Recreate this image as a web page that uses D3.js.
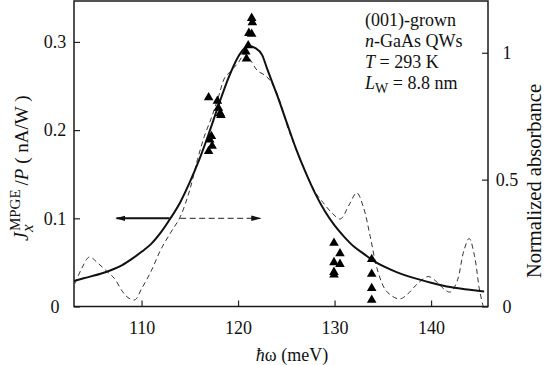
<!DOCTYPE html>
<html>
<head>
<meta charset="utf-8">
<script src="https://cdn.jsdelivr.net/npm/d3@7"></script>
<style>
  body { margin: 0; background: #fff; }
  svg, svg text { font-family: "Liberation Serif", "DejaVu Serif", serif !important; }
  svg text { fill: #111; }
</style>
</head>
<body>
<div id="chart"></div>
<script>
// photon energy (meV) / photocurrent (nA/W)
const fitEnergy = [103, 104, 106, 107, 108, 109, 110, 111, 112, 113, 114, 115, 116, 117, 118, 119, 120, 120.6, 121.2, 121.8, 122.5, 123, 124, 125, 126, 127, 128, 129, 130, 131, 132, 133, 134, 136, 138, 140, 142, 144, 145.5];
const fitCurrent = [0.029, 0.032, 0.038, 0.042, 0.047, 0.054, 0.062, 0.071, 0.084, 0.100, 0.118, 0.141, 0.167, 0.197, 0.229, 0.259, 0.283, 0.292, 0.295, 0.293, 0.285, 0.270, 0.241, 0.210, 0.179, 0.152, 0.128, 0.108, 0.092, 0.079, 0.068, 0.060, 0.052, 0.041, 0.033, 0.027, 0.022, 0.019, 0.017];

// normalized absorbance (right axis)
const absEnergy = [103.1, 103.8, 104.6, 105.5, 106.5, 107.2, 108.0, 108.6, 109.3, 110.0, 111.0, 112.0, 113.0, 114.0, 115.0, 115.8, 116.5, 117.3, 118.0, 118.6, 119.3, 120.0, 120.7, 121.3, 122.0, 123.0, 123.8, 124.5, 125.2, 126.0, 127.0, 128.0, 128.8, 129.7, 130.6, 131.5, 132.3, 133.0, 133.7, 134.4, 135.2, 136.0, 136.8, 137.6, 138.6, 139.7, 140.5, 141.3, 142.0, 142.7, 143.4, 143.95, 144.5, 145.0, 145.4];
const absValue = [0.09, 0.15, 0.195, 0.17, 0.135, 0.11, 0.06, 0.035, 0.026, 0.07, 0.14, 0.225, 0.29, 0.353, 0.46, 0.58, 0.67, 0.75, 0.83, 0.90, 0.93, 0.96, 0.995, 0.97, 0.93, 0.905, 0.86, 0.79, 0.70, 0.62, 0.53, 0.45, 0.41, 0.37, 0.345, 0.40, 0.448, 0.39, 0.275, 0.15, 0.07, 0.04, 0.03, 0.05, 0.09, 0.118, 0.10, 0.07, 0.057, 0.10, 0.22, 0.268, 0.20, 0.07, 0.0];

// measured points (triangles)
const ptEnergy = [121.41, 121.48, 121.12, 121.41, 121.05, 120.80, 120.87,
                  116.95, 117.86, 117.96, 118.15, 118.22, 117.24, 117.06, 117.31, 116.95,
                  129.94, 130.56, 129.94, 130.56, 129.94, 129.94,
                  133.85, 133.85, 133.85, 133.85];
const ptCurrent = [0.327, 0.322, 0.310, 0.309, 0.296, 0.289, 0.281,
                   0.237, 0.233, 0.225, 0.219, 0.217, 0.193, 0.189, 0.182, 0.176,
                   0.072, 0.060, 0.050, 0.048, 0.039, 0.036,
                   0.0535, 0.0368, 0.0206, 0.0074];

const xTicks = [110, 120, 130, 140];
const yTicks = [0, 0.1, 0.2, 0.3];
const yTickLabels = ["0", "0.1", "0.2", "0.3"];
const y2Ticks = [0, 0.5, 1];
const y2TickLabels = ["0", "0.5", "1"];

// arrows at J = 0.1 : solid points left, dashed points right
const arrowSolid = [112.9, 107.4];
const arrowDashed = [114.0, 122.3];
const arrowLevel = 0.1;

const width = 546, height = 365;
const margin = {top: 1, right: 58, bottom: 58.5, left: 74};
const w = width - margin.left - margin.right;
const h = height - margin.top - margin.bottom;
const serif = '"Liberation Serif", serif';

const svg = d3.select('#chart').append('svg')
    .attr('width', width).attr('height', height)
    .attr('font-family', serif);

const defs = svg.append('defs');
defs.append('marker').attr('id', 'head')
    .attr('viewBox', '0 0 10 10').attr('refX', 9).attr('refY', 5)
    .attr('markerWidth', 10).attr('markerHeight', 10)
    .attr('markerUnits', 'userSpaceOnUse').attr('orient', 'auto')
  .append('path').attr('d', 'M0,2.2 L10,5 L0,7.8 Z').attr('fill', '#111');

const g = svg.append('g').attr('transform', `translate(${margin.left},${margin.top})`);

const x = d3.scaleLinear([103, 145.9], [0, w]);
const y = d3.scaleLinear([0, 0.3464], [h, 0]);
const y2 = d3.scaleLinear([0, 1.204], [h, 0]);

// axes, ticks inside
const axB = g.append('g').attr('transform', `translate(0,${h})`)
    .call(d3.axisBottom(x).tickValues(xTicks).tickSize(-6).tickPadding(10).tickFormat(d3.format('d')));
const axL = g.append('g')
    .call(d3.axisLeft(y).tickValues(yTicks).tickSize(-6).tickFormat((d, i) => yTickLabels[i]));
const axR = g.append('g').attr('transform', `translate(${w},0)`)
    .call(d3.axisRight(y2).tickValues(y2Ticks).tickSize(-6).tickFormat((d, i) => y2TickLabels[i]));

[axB, axL, axR].forEach(a => {
  a.attr('font-family', serif);
  a.select('.domain').remove();
  a.selectAll('line').attr('stroke', '#222').attr('stroke-width', 1.2);
  a.selectAll('text').attr('font-size', 18).style('font-family', serif).attr('fill', '#111');
});
axB.selectAll('text').attr('y', 15);
axL.selectAll('text').attr('text-anchor', 'middle').attr('x', -19);
axR.selectAll('text').attr('text-anchor', 'middle').attr('x', 19);

// frame
g.append('rect').attr('width', w).attr('height', h)
    .attr('fill', 'none').attr('stroke', '#1a1a1a').attr('stroke-width', 1.5);

const clip = defs.append('clipPath').attr('id', 'clip');
clip.append('rect').attr('width', w).attr('height', h);
const plot = g.append('g').attr('clip-path', 'url(#clip)');

// absorbance dashed
plot.append('path')
    .datum(absEnergy.map((e, i) => [e, absValue[i]]))
    .attr('fill', 'none').attr('stroke', '#333').attr('stroke-width', 1)
    .attr('stroke-dasharray', '5,3.5')
    .attr('d', d3.line().x(d => x(d[0])).y(d => y2(d[1])).curve(d3.curveCatmullRom.alpha(0.5)));

// fit solid
plot.append('path')
    .datum(fitEnergy.map((e, i) => [e, fitCurrent[i]]))
    .attr('fill', 'none').attr('stroke', '#111').attr('stroke-width', 2)
    .attr('d', d3.line().x(d => x(d[0])).y(d => y(d[1])).curve(d3.curveMonotoneX));

// triangles
plot.selectAll('path.pt')
    .data(ptEnergy.map((e, i) => [e, ptCurrent[i]]))
    .join('path').attr('class', 'pt')
    .attr('transform', d => `translate(${x(d[0])},${y(d[1])})`)
    .attr('d', d3.symbol(d3.symbolTriangle, 40))
    .attr('fill', '#000');

// arrows
g.append('line')
    .attr('x1', x(arrowSolid[0])).attr('x2', x(arrowSolid[1]))
    .attr('y1', y(arrowLevel)).attr('y2', y(arrowLevel))
    .attr('stroke', '#111').attr('stroke-width', 2).attr('marker-end', 'url(#head)');
g.append('line')
    .attr('x1', x(arrowDashed[0])).attr('x2', x(arrowDashed[1]))
    .attr('y1', y(arrowLevel)).attr('y2', y(arrowLevel))
    .attr('stroke', '#222').attr('stroke-width', 1).attr('stroke-dasharray', '6,3.5')
    .attr('marker-end', 'url(#head)');

// annotation
const note = svg.append('text').attr('font-size', 18).attr('x', 365);
note.append('tspan').attr('x', 365).attr('y', 26).text('(001)-grown');
const l2 = note.append('tspan').attr('x', 365).attr('y', 47);
l2.append('tspan').attr('font-style', 'italic').text('n');
l2.append('tspan').text('-GaAs QWs');
const l3 = note.append('tspan').attr('x', 365).attr('y', 68);
l3.append('tspan').attr('font-style', 'italic').text('T');
l3.append('tspan').text(' = 293 K');
const l4 = note.append('tspan').attr('x', 365).attr('y', 89);
l4.append('tspan').attr('font-style', 'italic').text('L');
l4.append('tspan').attr('font-size', 14).attr('dy', 4).text('W');
l4.append('tspan').attr('dy', -4).text(' = 8.8 nm');

// x title
const xt = svg.append('text').attr('font-size', 18).attr('text-anchor', 'middle')
    .attr('x', 292).attr('y', 361);
xt.append('tspan').attr('font-style', 'italic').text('ħ');
xt.append('tspan').text('ω (meV)');

// right title
svg.append('text').attr('font-size', 20.5).attr('text-anchor', 'middle')
    .attr('transform', 'translate(541,181) rotate(-90)')
    .text('Normalized absorbance');

// left title: J_x^MPGE /P ( nA/W )
const lt = svg.append('g').attr('transform', 'translate(28,241) rotate(-90)');
const tJ = lt.append('text').attr('font-size', 20).attr('font-style', 'italic').text('J');
const wJ = tJ.node().getComputedTextLength();
const tx = lt.append('text').attr('font-size', 17).attr('font-style', 'italic')
    .attr('x', wJ).attr('y', 5).text('x');
const tm = lt.append('text').attr('font-size', 15).attr('x', wJ + 1).attr('y', -8).text('MPGE');
const wS = Math.max(tx.node().getComputedTextLength(), tm.node().getComputedTextLength() + 1);
const tr = lt.append('text').attr('font-size', 19).attr('x', wJ + wS + 4);
tr.append('tspan').text('/');
tr.append('tspan').attr('font-style', 'italic').text('P');
tr.append('tspan').text(' ( nA/W )');
</script>
</body>
</html>
